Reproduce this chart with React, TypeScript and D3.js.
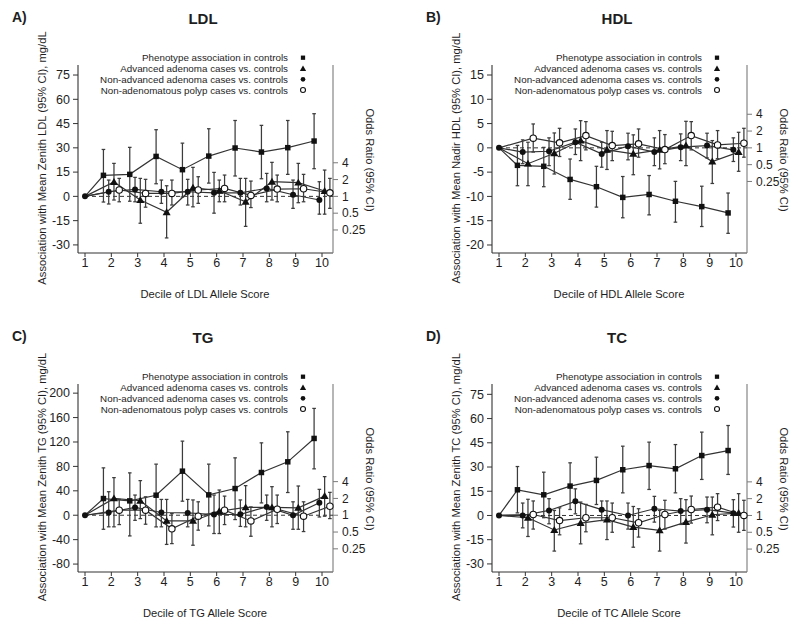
import React from 'react';
import * as d3 from 'd3';

// decile 1 is the reference group (beta 0 / OR 1)
const deciles = [1, 2, 3, 4, 5, 6, 7, 8, 9, 10];
const orTicks = [0.25, 0.5, 1, 2, 4];
const legendLabels = [
  'Phenotype association in controls',
  'Advanced adenoma cases vs. controls',
  'Non-advanced adenoma cases vs. controls',
  'Non-adenomatous polyp cases vs. controls',
];
const ldlTicks = [-30, -15, 0, 15, 30, 45, 60, 75];
const hdlTicks = [-20, -15, -10, -5, 0, 5, 10, 15];
const tgTicks = [-80, -40, 0, 40, 80, 120, 160, 200];
const tcTicks = [-30, -15, 0, 15, 30, 45, 60, 75];

// [estimate, lower CI, upper CI] per decile
const ldlPheno = [[0, 0, 0], [13.0, -3.5, 29.0], [13.6, -3.0, 30.3], [24.7, 7.8, 41.2], [16.5, -0.4, 32.9], [24.9, 8.2, 41.8], [29.9, 12.6, 46.9], [27.4, 10.9, 43.9], [30.1, 13.6, 46.9], [34.2, 17.1, 51.1]];
const ldlAdv = [[1, 1, 1], [1.81, 0.86, 3.9], [0.86, 0.33, 2.1], [0.52, 0.18, 1.55], [1.43, 0.65, 3.31], [1.26, 0.8, 1.96], [0.8, 0.29, 2.1], [1.83, 0.86, 4.07], [1.76, 0.77, 3.9], [1.25, 0.48, 2.96]];
const ldlNonAdv = [[1, 1, 1], [1.21, 0.73, 1.96], [1.33, 0.8, 2.19], [1.21, 0.75, 1.96], [1.21, 0.7, 2.02], [1.16, 0.5, 2.69], [1.16, 0.7, 2.1], [1.39, 0.8, 2.58], [1.07, 0.61, 1.96], [0.86, 0.48, 1.83]];
const ldlNonAden = [[1, 1, 1], [1.3, 0.8, 2.1], [1.13, 0.64, 2.02], [1.13, 0.7, 1.96], [1.3, 0.75, 2.25], [1.39, 0.8, 2.41], [1.04, 0.63, 1.88], [1.35, 0.8, 2.41], [1.37, 0.8, 2.48], [1.16, 0.61, 2.1]];

const hdlPheno = [[0, 0, 0], [-3.6, -7.8, 0.5], [-3.8, -8.0, 0.1], [-6.5, -10.6, -2.3], [-8.0, -12.2, -3.8], [-10.2, -14.4, -5.9], [-9.6, -13.8, -5.7], [-11.0, -15.3, -6.9], [-12.1, -16.2, -7.9], [-13.4, -17.6, -9.3]];
const hdlAdv = [[1, 1, 1], [0.52, 0.21, 1.26], [0.8, 0.34, 1.85], [1.35, 0.59, 3.07], [0.92, 0.41, 2.04], [0.78, 0.33, 1.71], [0.92, 0.42, 2.04], [1.1, 0.48, 2.99], [0.57, 0.23, 1.35], [0.84, 0.38, 1.9]];
const hdlNonAdv = [[1, 1, 1], [0.84, 0.52, 1.39], [0.87, 0.48, 1.51], [1.26, 0.76, 2.18], [0.78, 0.45, 1.26], [1.07, 0.61, 1.83], [0.84, 0.48, 1.51], [1.03, 0.59, 1.78], [1.1, 0.66, 1.83], [0.92, 0.57, 1.51]];
const hdlNonAden = [[1, 1, 1], [1.49, 0.84, 2.68], [1.23, 0.7, 2.24], [1.66, 0.92, 2.95], [1.1, 0.59, 1.98], [1.18, 0.68, 2.18], [0.93, 0.52, 1.73], [1.66, 0.92, 2.95], [1.13, 0.64, 2.04], [1.21, 0.68, 2.24]];

const tgPheno = [[0, 0, 0], [27.3, -23, 77.6], [23.5, -33.9, 69.4], [32.8, -19.1, 83.7], [72.2, 23, 121.4], [33.4, -17.5, 83.7], [43.7, -7.1, 94], [70.0, 20.2, 118.6], [87.5, 37.2, 136.7], [125.8, 76, 175]];
const tgAdv = [[1, 1, 1], [2.0, 0.62, 4.72], [1.82, 0.87, 4.17], [0.79, 0.3, 1.92], [0.79, 0.29, 1.88], [1.18, 0.47, 2.83], [1.38, 0.62, 3.39], [1.38, 0.62, 3.25], [1.36, 0.56, 3.34], [2.2, 0.96, 4.92]];
const tgNonAdv = [[1, 1, 1], [1.12, 0.62, 2.64], [1.38, 0.81, 2.3], [1.12, 0.62, 1.92], [1.1, 0.62, 1.92], [1.03, 0.47, 2.3], [1.04, 0.63, 1.88], [1.41, 0.81, 2.3], [1.0, 0.56, 1.74], [1.67, 0.93, 2.91]];
const tgNonAden = [[1, 1, 1], [1.23, 0.68, 1.92], [1.23, 0.69, 2.14], [0.57, 0.31, 1.07], [0.96, 0.54, 1.74], [1.23, 0.68, 2.2], [0.79, 0.42, 1.41], [1.28, 0.71, 2.3], [0.96, 0.51, 1.74], [1.45, 0.87, 2.57]];

const tcPheno = [[0, 0, 0], [15.9, 1.6, 30.3], [12.8, -1.4, 26.8], [18.2, 3.7, 32.6], [21.7, 6.8, 36.1], [28.3, 14.0, 42.9], [30.9, 16.1, 45.4], [28.9, 14.0, 43.9], [37.1, 22.3, 51.6], [40.2, 25.4, 55.7]];
const tcAdv = [[1, 1, 1], [0.91, 0.42, 1.95], [0.55, 0.23, 1.23], [0.73, 0.31, 1.74], [0.84, 0.37, 1.82], [0.62, 0.27, 1.45], [0.54, 0.23, 1.23], [0.76, 0.32, 1.92], [1.03, 0.45, 2.14], [1.1, 0.5, 2.46]];
const tcNonAdv = [[1, 1, 1], [1.0, 0.6, 1.67], [1.23, 0.71, 2.0], [1.79, 1.07, 3.0], [1.27, 0.81, 1.82], [1.0, 0.57, 1.67], [1.32, 0.76, 2.2], [1.2, 0.69, 2.0], [1.27, 0.74, 2.14], [1.1, 0.62, 1.92]];
const tcNonAden = [[1, 1, 1], [1.04, 0.57, 1.82], [0.81, 0.45, 1.37], [0.91, 0.51, 1.58], [0.91, 0.5, 1.67], [0.74, 0.41, 1.32], [1.04, 0.57, 1.87], [1.28, 0.73, 2.23], [1.41, 0.81, 2.46], [1.0, 0.54, 1.87]];

const FONT = "'Liberation Sans', Arial, Helvetica, sans-serif";
const INK = '#1e1e1e';
const LINE = '#333';
const PX_PER_DOUBLING = 16.8;

type PanelProps = {
  ox: number;
  oy: number;
  letter: string;
  title: string;
  xLabel: string;
  yLabel: string;
  yDomain: [number, number];
  yTicks: number[];
  pheno: number[][];
  adv: number[][];
  nonAdv: number[][];
  nonAden: number[][];
};

const sqPath = d3.symbol(d3.symbolSquare, 30)()!;
const triPath = d3.symbol(d3.symbolTriangle, 28)()!;

const Marker = ({ kind, x, y, k = 1 }: { kind: string; x: number; y: number; k?: number }) => {
  const tf = `translate(${x},${y}) scale(${k})`;
  if (kind === 'square') return <path d={sqPath} transform={tf} fill="#111" />;
  if (kind === 'triangle') return <path d={triPath} transform={`translate(${x},${y + 0.6}) scale(${k})`} fill="#111" />;
  if (kind === 'dot') return <circle cx={x} cy={y} r={3 * k} fill="#111" />;
  return <circle cx={x} cy={y} r={3.2 * k} fill="#fff" stroke="#111" strokeWidth={1.1} />;
};

const Panel: React.FC<PanelProps> = (p) => {
  const left = p.ox + 78;
  const right = p.ox + 333;
  const top = p.oy + 65;
  const bottom = p.oy + 253;

  const x = d3.scaleLinear().domain([1, 10]).range([left + 7, right - 11]);
  const y = d3.scaleLinear().domain(p.yDomain).range([bottom, top]);
  const y0 = y(0);
  const yr = d3.scaleLog().base(2).domain([0.25, 4]).range([y0 + 2 * PX_PER_DOUBLING, y0 - 2 * PX_PER_DOUBLING]);

  const series = [
    { data: p.pheno, scale: y, off: -0.3, kind: 'square' },
    { data: p.adv, scale: yr, off: 0.1, kind: 'triangle' },
    { data: p.nonAdv, scale: yr, off: -0.1, kind: 'dot' },
    { data: p.nonAden, scale: yr, off: 0.3, kind: 'open' },
  ];
  const xOf = (d: number, off: number) => x(d === 1 ? 1 : d + off);

  const legendY = [57.7, 68.5, 79.3, 90].map((v) => p.oy + v);
  const kinds = ['square', 'triangle', 'dot', 'open'];

  return (
    <g fontFamily={FONT} fill={INK}>
      {/* headings */}
      <text x={p.ox + 12} y={p.oy + 22} fontSize={14} fontWeight="bold">{p.letter}</text>
      <text x={p.ox + 203} y={p.oy + 24} fontSize={15} fontWeight="bold" textAnchor="middle">{p.title}</text>

      {/* legend */}
      {legendLabels.map((lab, i) => (
        <g key={lab}>
          <text x={p.ox + 288} y={legendY[i] + 3.5} fontSize={9.8} textAnchor="end">{lab}</text>
          <Marker kind={kinds[i]} x={p.ox + 303} y={legendY[i]} k={0.78} />
        </g>
      ))}

      {/* frame */}
      <line x1={left} x2={left} y1={top} y2={bottom} stroke="#333" strokeWidth={1.1} />
      <line x1={left} x2={right} y1={bottom} y2={bottom} stroke="#333" strokeWidth={1.1} />
      <line x1={right} x2={right} y1={top} y2={bottom} stroke="#7a7a7a" strokeWidth={1.1} />

      {/* left axis */}
      {p.yTicks.map((t) => (
        <g key={t}>
          <line x1={left - 5} x2={left} y1={y(t)} y2={y(t)} stroke="#333" />
          <text x={left - 8} y={y(t) + 4.3} fontSize={12.5} textAnchor="end">{t}</text>
        </g>
      ))}
      {/* right axis */}
      {orTicks.map((t) => (
        <g key={t}>
          <line x1={right} x2={right + 5} y1={yr(t)} y2={yr(t)} stroke="#7a7a7a" />
          <text x={right + 9} y={yr(t) + 4.2} fontSize={12}>{t}</text>
        </g>
      ))}
      {/* bottom axis */}
      {deciles.map((d) => (
        <g key={d}>
          <line x1={x(d)} x2={x(d)} y1={bottom} y2={bottom + 4} stroke="#333" />
          <text x={x(d)} y={p.oy + 266.5} fontSize={12.5} textAnchor="middle">{d}</text>
        </g>
      ))}

      {/* axis titles */}
      <text x={p.ox + 205} y={p.oy + 298} fontSize={11.2} textAnchor="middle">{p.xLabel}</text>
      <text transform={`translate(${p.ox + 46},${p.oy + 158}) rotate(-90)`} fontSize={11.2} textAnchor="middle">{p.yLabel}</text>
      <text transform={`translate(${p.ox + 366},${p.oy + 160}) rotate(90)`} fontSize={11.2} textAnchor="middle">Odds Ratio (95% CI)</text>

      {/* reference line */}
      <line x1={x(1)} x2={right} y1={y0} y2={y0} stroke="#333" strokeDasharray="4,3" />

      {/* connecting lines */}
      {series.map((s) => {
        const path = d3.line<number>()
          .x((d) => xOf(d, s.off))
          .y((_, i) => s.scale(s.data[i][0]))(deciles);
        return <path key={s.kind + 'l'} d={path ?? ''} fill="none" stroke={LINE} strokeWidth={1.2} />;
      })}

      {/* error bars */}
      {series.map((s) => (
        <g key={s.kind + 'e'} stroke="#3c3c3c" strokeWidth={1.25}>
          {deciles.slice(1).map((d) => {
            const [, lo, hi] = s.data[d - 1];
            const cx = xOf(d, s.off);
            return (
              <g key={d}>
                <line x1={cx} x2={cx} y1={s.scale(lo)} y2={s.scale(hi)} />
                <line x1={cx - 1.8} x2={cx + 1.8} y1={s.scale(lo)} y2={s.scale(lo)} />
                <line x1={cx - 1.8} x2={cx + 1.8} y1={s.scale(hi)} y2={s.scale(hi)} />
              </g>
            );
          })}
        </g>
      ))}

      {/* markers */}
      {series.map((s) => (
        <g key={s.kind + 'm'}>
          {deciles.slice(1).map((d) => (
            <Marker key={d} kind={s.kind} x={xOf(d, s.off)} y={s.scale(s.data[d - 1][0])} />
          ))}
        </g>
      ))}
      <Marker kind="dot" x={x(1)} y={y0} />
    </g>
  );
};

export default function App() {
  return (
    <svg width={800} height={627} style={{ position: 'absolute', left: 0, top: 0, background: '#fff' }}>
      <rect width={800} height={627} fill="#fff" />
      <Panel ox={0} oy={0} letter="A)" title="LDL" xLabel="Decile of LDL Allele Score"
        yLabel="Association with Mean Zenith LDL (95% CI), mg/dL" yDomain={[-35, 81.2]} yTicks={ldlTicks}
        pheno={ldlPheno} adv={ldlAdv} nonAdv={ldlNonAdv} nonAden={ldlNonAden} />
      <Panel ox={414} oy={0} letter="B)" title="HDL" xLabel="Decile of HDL Allele Score"
        yLabel="Association with Mean Nadir HDL (95% CI), mg/dL" yDomain={[-21.65, 17.06]} yTicks={hdlTicks}
        pheno={hdlPheno} adv={hdlAdv} nonAdv={hdlNonAdv} nonAden={hdlNonAden} />
      <Panel ox={0} oy={319} letter="C)" title="TG" xLabel="Decile of TG Allele Score"
        yLabel="Association with Mean Zenith TG (95% CI), mg/dL" yDomain={[-93, 215]} yTicks={tgTicks}
        pheno={tgPheno} adv={tgAdv} nonAdv={tgNonAdv} nonAden={tgNonAden} />
      <Panel ox={414} oy={319} letter="D)" title="TC" xLabel="Decile of TC Allele Score"
        yLabel="Association with Mean Zenith TC (95% CI), mg/dL" yDomain={[-35, 81.4]} yTicks={tcTicks}
        pheno={tcPheno} adv={tcAdv} nonAdv={tcNonAdv} nonAden={tcNonAden} />
    </svg>
  );
}
